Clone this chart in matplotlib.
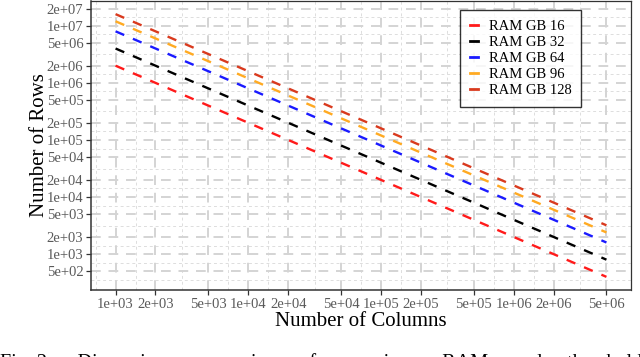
import numpy as np
import matplotlib.pyplot as plt

# dados
colunas = [1e3, 2e3, 5e3, 1e4, 2e4, 5e4, 1e5, 2e5, 5e5, 1e6, 2e6, 5e6]
ram16 = [2e6, 1e6, 4e5, 2e5, 1e5, 4e4, 2e4, 1e4, 4e3, 2e3, 1e3, 4e2]
ram32 = [4e6, 2e6, 8e5, 4e5, 2e5, 8e4, 4e4, 2e4, 8e3, 4e3, 2e3, 8e2]
ram64 = [8e6, 4e6, 1.6e6, 8e5, 4e5, 1.6e5, 8e4, 4e4, 1.6e4, 8e3, 4e3, 1.6e3]
ram96 = [1.2e7, 6e6, 2.4e6, 1.2e6, 6e5, 2.4e5, 1.2e5, 6e4, 2.4e4, 1.2e4, 6e3, 2.4e3]
ram128 = [1.6e7, 8e6, 3.2e6, 1.6e6, 8e5, 3.2e5, 1.6e5, 8e4, 3.2e4, 1.6e4, 8e3, 3.2e3]
nomes = ['RAM GB 16', 'RAM GB 32', 'RAM GB 64', 'RAM GB 96', 'RAM GB 128']
cores = ['#FF1A1A', '#000000', '#1A1AFF', '#FFAA22', '#D93A1E']

xticks = [1e3, 2e3, 5e3, 1e4, 2e4, 5e4, 1e5, 2e5, 5e5, 1e6, 2e6, 5e6]
yticks = [5e2, 1e3, 2e3, 5e3, 1e4, 2e4, 5e4, 1e5, 2e5, 5e5, 1e6, 2e6, 5e6, 1e7, 2e7]

plt.rcParams['font.family'] = ['Liberation Serif', 'DejaVu Serif']

fig = plt.figure(figsize=(6.4, 3.57), dpi=100)
ax = fig.add_axes([91/640, 1 - 290/357, 540/640, 289/357])


def minor_de(ticks):
    lt = np.log10(ticks)
    meio = (lt[:-1] + lt[1:]) / 2
    meio = np.concatenate([[lt[0] - (lt[1] - lt[0]) / 2], meio, [lt[-1] + (lt[-1] - lt[-2]) / 2]])
    return 10 ** meio


for v in minor_de(xticks):
    ax.axvline(v, color='#DDDDDD', lw=0.7, ls=(0, (3, 3)), zorder=0)
for v in minor_de(yticks):
    ax.axhline(v, color='#DDDDDD', lw=0.7, ls=(0, (3, 3)), zorder=0)
for v in xticks:
    ax.axvline(v, color='#D4D4D4', lw=1.4, ls=(0, (5, 4)), zorder=0)
for v in yticks:
    ax.axhline(v, color='#D4D4D4', lw=1.4, ls=(0, (5, 4)), zorder=0)

for serie, nome, cor in zip([ram16, ram32, ram64, ram96, ram128], nomes, cores):
    ax.plot(colunas, serie, color=cor, lw=1.7, ls=(0, (4, 4)), label=nome, zorder=3)

ax.set_xscale('log')
ax.set_yscale('log')
lx = np.log10([1e3, 5e6])
ly = np.log10([4e2, 1.6e7])
ex = (lx[1] - lx[0]) * 0.05
ey = (ly[1] - ly[0]) * 0.05
ax.set_xlim(10 ** (lx[0] - ex), 10 ** (lx[1] + ex))
ax.set_ylim(10 ** (ly[0] - ey), 10 ** (ly[1] + ey))

ax.set_xticks(xticks)
ax.set_xticklabels(['%.0e' % v for v in xticks])
ax.set_yticks(yticks)
ax.set_yticklabels(['%.0e' % v for v in yticks])
ax.minorticks_off()
ax.tick_params(length=3.5, width=0.9, color='#333333', labelcolor='#5A5A5A', labelsize=10.5, pad=2)
for s in ax.spines.values():
    s.set_color('#333333')
    s.set_linewidth(0.9)
ax.spines['left'].set_linewidth(1.1)
ax.spines['bottom'].set_linewidth(1.1)

ax.set_xlabel('Number of Columns', fontsize=15, labelpad=1)
ax.set_ylabel('Number of Rows', fontsize=15, labelpad=-2)

leg = ax.legend(loc='upper right', bbox_to_anchor=(490/540, 280/289), fontsize=10.5,
                handlelength=0.55, handletextpad=0.75, labelspacing=0.2,
                frameon=True, fancybox=False, borderpad=0.65, borderaxespad=0)
leg.get_frame().set_edgecolor('black')
leg.get_frame().set_linewidth(1.0)
for h in leg.get_lines():
    h.set_linestyle('-')
    h.set_linewidth(2)

fig.text(0.0, 1 - 353/357,
         'Fig. 2:     Dimension     comparison     for     various     RAM     and     threshold',
         fontsize=14.5, va='top', ha='left')

fig.savefig('out.png', dpi=100)
